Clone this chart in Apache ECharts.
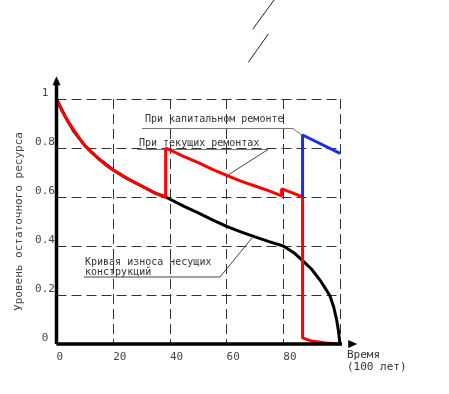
<!DOCTYPE html>
<html><head><meta charset="utf-8">
<script src="https://cdn.jsdelivr.net/npm/echarts@6/dist/echarts.min.js"></script>
<style>html,body{margin:0;padding:0;background:#fff}#c{width:449px;height:394px}</style>
</head><body><div id="c"></div>
<script>
const xTicks = ['0', '20', '40', '60', '80', ''];
const yTicks = ['0', '0.2', '0.4', '0.6', '0.8', '1'];
// wear curve of load-bearing structures
const wearCurve = [[0,1],[3,0.93],[6,0.87],[10,0.81],[15,0.755],[20,0.71],[25,0.675],[30,0.645],[35,0.615],[38.5,0.6],
  [45,0.562],[50,0.535],[55,0.507],[60,0.48],[65,0.458],[70,0.437],[75,0.418],[80,0.4],[84,0.37],[87,0.338],
  [90,0.305],[93,0.26],[95.2,0.22],[96.5,0.195],[97.8,0.15],[98.8,0.1],[99.5,0.05],[100,0]];
// with current repairs
const currentRepairs = [[0,1],[2,0.95],[4,0.91],[6,0.875],[8,0.84],[10,0.81],[12.5,0.78],[15,0.755],[17.5,0.73],[20,0.71],
  [25,0.675],[30,0.645],[35,0.615],[38.5,0.6],
  [38.5,0.8],[45,0.765],[50,0.74],[55,0.713],[60,0.688],[65,0.665],[70,0.645],[75,0.625],[79.4,0.605],
  [79.4,0.633],[83,0.618],[86.8,0.6],[86.8,0.025],[90,0.012],[95,0.004],[100,0]];
// with capital repair
const capitalRepair = [[86.8,0.6],[86.8,0.853],[100,0.778]];
const xAxisLine = [[0,0],[104.5,0]];
const yAxisLine = [[0,0],[0,1.075]];

const chart = echarts.init(document.getElementById('c'));
const font = 'DejaVu Sans Mono';
const txt = (x, y, s, size) => ({type:'text', left:x, top:y, style:{text:s, font: (size||10)+'px "'+font+'"', fill:'#333'}});
const ln = (x1,y1,x2,y2,c) => ({type:'line', shape:{x1,y1,x2,y2}, style:{stroke:c||'#444', lineWidth:1}});
const axisSeries = (d, rot) => ({type:'line', clip:false, z:6, silent:true, showSymbol:true,
  data:[{value:d[0], symbol:'none'}, {value:d[1], symbol:'triangle', symbolSize:[8,9], symbolRotate:rot}],
  itemStyle:{color:'#000'}, lineStyle:{color:'#000', width:3.5}});
chart.setOption({
  animation:false,
  grid:{left:56.5, right:109, top:99, bottom:50},
  xAxis:{type:'value', min:0, max:100, interval:20,
    axisLine:{show:false}, axisTick:{show:false},
    axisLabel:{align:'left', margin:8, color:'#444', fontFamily:font, fontSize:11,
      formatter:(v)=>xTicks[Math.round(v/20)]},
    splitLine:{show:true, lineStyle:{color:'#333', type:[10,5], width:1}}},
  yAxis:{type:'value', min:0, max:1, interval:0.2,
    name:'Уровень остаточного ресурса', nameLocation:'middle', nameRotate:90, nameGap:23,
    nameTextStyle:{color:'#444', fontFamily:font, fontSize:11},
    axisLine:{show:false}, axisTick:{show:false},
    axisLabel:{align:'center', verticalAlign:'bottom', margin:11.5, color:'#444', fontFamily:font, fontSize:11,
      formatter:(v)=>yTicks[Math.round(v*5)]},
    splitLine:{show:true, lineStyle:{color:'#333', type:[10,5], width:1}}},
  series:[
    {type:'line', data:wearCurve, symbol:'none', lineStyle:{color:'#000', width:3}, z:3},
    {type:'line', data:currentRepairs, symbol:'none', lineStyle:{color:'#ff0000', width:3}, z:4},
    {type:'line', data:capitalRepair, symbol:'none', lineStyle:{color:'#1a2fe0', width:3}, z:5},
    axisSeries(xAxisLine, -90),
    axisSeries(yAxisLine, 0)
  ],
  graphic:[
    ln(252.7,29.3,274,0,'#222'), ln(248.3,62.3,268.3,34,'#222'),
    txt(145,114,'При капитальном ремонте'),
    ln(142,128.5,293,128.5,'#777'), ln(293,128.5,302,135,'#777'),
    txt(139,138,'При текущих ремонтах'),
    ln(137,149.5,268,149.5,'#777'), ln(268,149.5,228,175,'#444'),
    txt(85,257,'Кривая износа несущих'),
    txt(85,267,'конструкций'),
    ln(84,277,220,277,'#444'), ln(220,277,252,238,'#444'),
    txt(347,350,'Время',11),
    txt(347,362,'(100 лет)',11)
  ]
});
</script></body></html>
